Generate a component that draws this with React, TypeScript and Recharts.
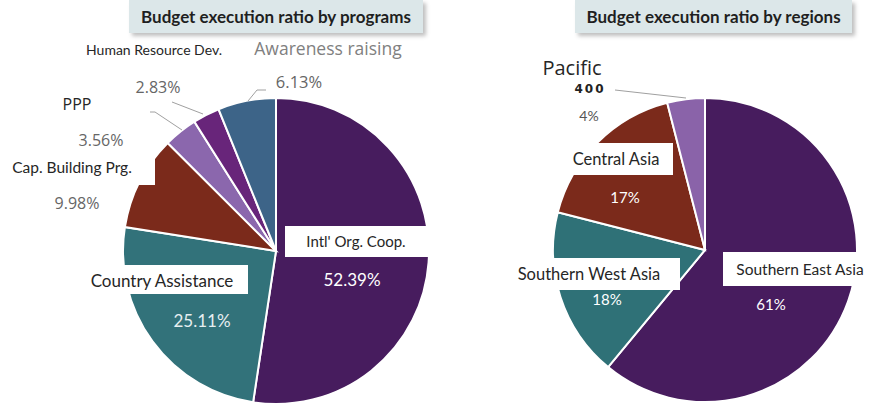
import React from 'react';
import { PieChart, Pie, Cell } from 'recharts';

// programs
const programNames = ["Intl' Org. Coop.", 'Country Assistance', 'Cap. Building Prg.', 'PPP', 'Human Resource Dev.', 'Awareness raising'];
const programShares = [52.39, 25.11, 9.98, 3.56, 2.83, 6.13];
const programColors = ['#471c5e', '#32727a', '#7b2a1b', '#8b67ad', '#68257a', '#3d6488'];

// regions
const regionNames = ['Southern East Asia', 'Southern West Asia', 'Central Asia', 'Pacific'];
const regionShares = [61, 18, 17, 4];
const regionColors = ['#471c5e', '#2f7177', '#7b2a1b', '#8a63a9'];

const programData = programNames.map((name, i) => ({ name, value: programShares[i] }));
const regionData = regionNames.map((name, i) => ({ name, value: regionShares[i] }));

const FONT = 'Lato, "Open Sans", sans-serif';
const GRAY_FONT = '"Open Sans", "Noto Sans", sans-serif';

type Lay = {
  box?: [number, number, number, number];
  name: [number, number];
  nameSize?: number;
  nameColor?: string;
  nameFont?: string;
  pct: [number, number];
  pctColor: string;
  pctSize?: number;
  pctFont?: string;
  line?: number[];
  extra?: { text: string; at: [number, number] };
};

// label placement, relative to the pie centre
const programLayout: Lay[] = [
  { box: [9, -25, 151, 31], name: [80, -10], nameSize: 15, pct: [76, 28], pctColor: '#fff', pctSize: 17 },
  { box: [-193, 14, 165, 29], name: [-114, 29], nameSize: 17, pct: [-74, 69], pctColor: '#e6eef0', pctSize: 17 },
  { box: [-271, -99, 150, 33], name: [-204, -84], nameSize: 15.5, pct: [-199, -48], pctColor: '#666', pctSize: 16, pctFont: GRAY_FONT },
  { name: [-199, -147], nameSize: 16, nameFont: GRAY_FONT, pct: [-175, -111], pctColor: '#666', pctSize: 16, pctFont: GRAY_FONT, line: [-126, -139, -121, -139, -94, -121] },
  { name: [-122, -202], nameSize: 14, pct: [-118, -164], pctColor: '#666', pctSize: 16, pctFont: GRAY_FONT, line: [-104, -149, -73, -137] },
  { name: [52, -203], nameSize: 17.5, nameColor: '#808080', nameFont: GRAY_FONT, pct: [23, -170], pctColor: '#666', pctSize: 16.5, pctFont: GRAY_FONT, line: [-10, -161, -19, -161, -28, -150] },
];

const regionLayout: Lay[] = [
  { box: [18, 2, 147, 34], name: [95, 19], nameSize: 15.5, pct: [66, 54], pctColor: '#fff', pctSize: 15 },
  { box: [-193, 8, 168, 32], name: [-116, 24], nameSize: 16.5, pct: [-98, 49], pctColor: '#fff', pctSize: 15 },
  { box: [-140, -107, 108, 32], name: [-89, -91], nameSize: 16.5, pct: [-80, -53], pctColor: '#fff', pctSize: 15 },
  { name: [-133, -183], nameSize: 20, nameFont: GRAY_FONT, pct: [-116, -135], pctColor: '#555', pctSize: 14, line: [-90, -160, -19, -152], extra: { text: '400', at: [-115, -161] } },
];

const makeLabel = (layout: Lay[], fmt: (v: number) => string) => (props: any) => {
  const { cx, cy, index, value, name } = props;
  const l = layout[index];
  if (!l) return null;
  const pts = l.line;
  return (
    <g>
      {l.box && (
        <rect x={cx + l.box[0]} y={cy + l.box[1]} width={l.box[2]} height={l.box[3]} fill="#fff" />
      )}
      {pts && (
        <polyline
          points={pts.map((p, i) => (i % 2 === 0 ? cx + p : cy + p)).join(' ')}
          fill="none"
          stroke="#a0a0a0"
          strokeWidth={1}
        />
      )}
      <text
        x={cx + l.name[0]}
        y={cy + l.name[1]}
        textAnchor="middle"
        dominantBaseline="central"
        fontFamily={l.nameFont || FONT}
        fontSize={l.nameSize || 15}
        fill={l.nameColor || '#262626'}
      >
        {name}
      </text>
      {l.extra && (
        <text
          x={cx + l.extra.at[0]}
          y={cy + l.extra.at[1]}
          textAnchor="middle"
          dominantBaseline="central"
          fontFamily='"DejaVu Sans", sans-serif'
          fontWeight={700}
          fontSize={12}
          letterSpacing={2}
          fill="#222"
        >
          {l.extra.text}
        </text>
      )}
      <text
        x={cx + l.pct[0]}
        y={cy + l.pct[1]}
        textAnchor="middle"
        dominantBaseline="central"
        fontFamily={l.pctFont || FONT}
        fontSize={l.pctSize || 15}
        fill={l.pctColor}
      >
        {fmt(value)}
      </text>
    </g>
  );
};

const titleStyle: React.CSSProperties = {
  position: 'absolute',
  top: 0,
  height: 33,
  background: '#dce7e9',
  boxShadow: '3px 3px 4px rgba(0,0,0,0.25)',
  fontFamily: FONT,
  fontWeight: 700,
  fontSize: 17,
  color: '#1f1f1f',
  display: 'flex',
  alignItems: 'center',
  justifyContent: 'center',
};

export default function App() {
  return (
    <div style={{ position: 'absolute', left: 0, top: 0, width: 872, height: 405, background: '#fff', overflow: 'hidden' }}>
      <PieChart width={872} height={405} margin={{ top: 0, right: 0, bottom: 0, left: 0 }}>
        <Pie
          data={programData}
          dataKey="value"
          nameKey="name"
          cx={276}
          cy={251}
          outerRadius={153}
          startAngle={90}
          endAngle={-270}
          stroke="#fff"
          strokeWidth={2}
          isAnimationActive={false}
          labelLine={false}
          label={makeLabel(programLayout, (v) => `${v.toFixed(2)}%`)}
        >
          {programData.map((d, i) => (
            <Cell key={d.name} fill={programColors[i]} />
          ))}
        </Pie>
        <Pie
          data={regionData}
          dataKey="value"
          nameKey="name"
          cx={705}
          cy={250}
          outerRadius={152}
          startAngle={90}
          endAngle={-270}
          stroke="#fff"
          strokeWidth={2}
          isAnimationActive={false}
          labelLine={false}
          label={makeLabel(regionLayout, (v) => `${v}%`)}
        >
          {regionData.map((d, i) => (
            <Cell key={d.name} fill={regionColors[i]} />
          ))}
        </Pie>
      </PieChart>
      <div style={{ ...titleStyle, left: 129, width: 294 }}>Budget execution ratio by programs</div>
      <div style={{ ...titleStyle, left: 575, width: 277 }}>Budget execution ratio by regions</div>
    </div>
  );
}
